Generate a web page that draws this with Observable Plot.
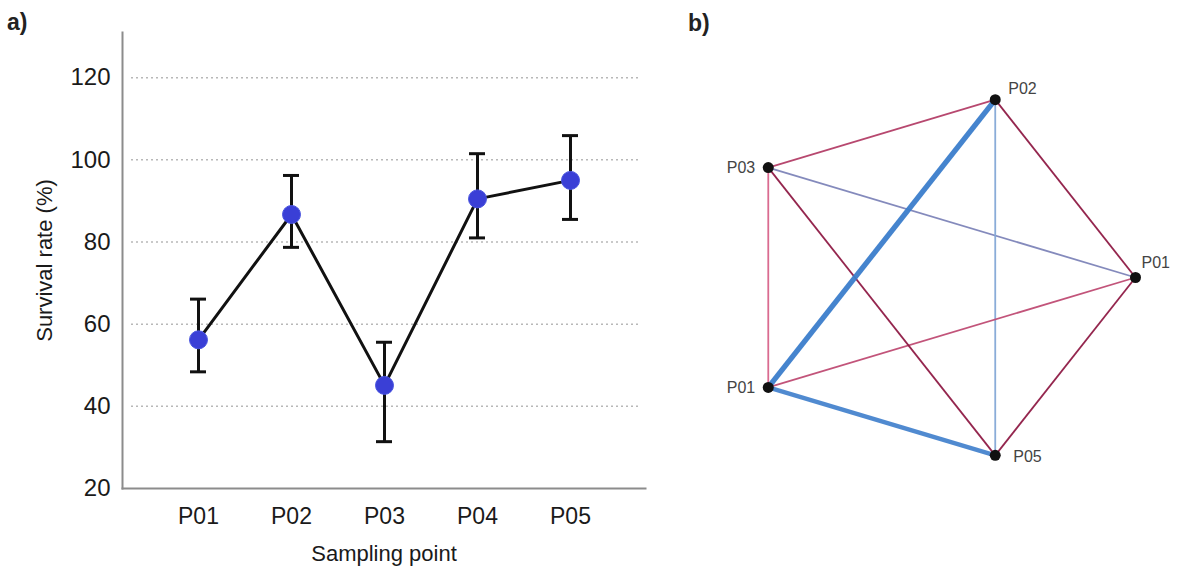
<!DOCTYPE html>
<html><head><meta charset="utf-8">
<script src="https://cdn.jsdelivr.net/npm/d3@7"></script>
<script src="https://cdn.jsdelivr.net/npm/@observablehq/plot@0.6"></script>
<style>
body{margin:0;background:#fff;font-family:"Liberation Sans",Arial,sans-serif;}
#wrap{position:relative;width:1184px;height:572px;overflow:hidden;background:#fff}
#pa{position:absolute;left:0;top:0}
#pb{position:absolute;left:680px;top:0}
.tag{position:absolute;font-size:23px;font-weight:bold;color:#222;line-height:1}
</style></head><body>
<div id="wrap">
  <div id="pa"></div><div id="pb"></div>
  <div class="tag" style="left:7px;top:11px">a)</div>
  <div class="tag" style="left:688px;top:12px">b)</div>
</div>
<script>
// ---- panel a data ----
const sites = ["P01", "P02", "P03", "P04", "P05"];
const survival = [56.2, 86.7, 45.1, 90.5, 95.0];
const survivalLow = [48.4, 78.7, 31.4, 81.0, 85.5];
const survivalHigh = [66.1, 96.2, 55.6, 101.5, 105.9];
const yTicks = [20, 40, 60, 80, 100, 120];

// ---- panel b data (circle layout order, clockwise from the right) ----
const nodeLabels = ["P01", "P05", "P01", "P03", "P02"];
const edgeFrom   = [3, 3, 3, 3, 4, 4, 4, 0, 0, 2];
const edgeTo     = [4, 0, 2, 1, 2, 1, 0, 2, 1, 1];
const edgeWeight = [-0.45, 0.2, -0.3, -0.6, 0.95, 0.35, -0.6, -0.4, -0.6, 0.85];

const font = "'Liberation Sans', Arial, sans-serif";

// ---- panel a ----
const rows = sites.map((s, i) => ({site: s, v: survival[i], lo: survivalLow[i], hi: survivalHigh[i]}));
const axisColor = "#8c8c8c";
const pa = Plot.plot({
  width: 660, height: 572,
  marginLeft: 122, marginRight: 15, marginTop: 32, marginBottom: 84,
  style: {fontFamily: font, color: "#1a1a1a", background: "transparent"},
  x: {type: "band", domain: sites, paddingInner: 0.83, paddingOuter: 0.718},
  y: {domain: [20, 131]},
  marks: [
    Plot.gridY(yTicks.slice(1), {stroke: "#b8b8b8", strokeOpacity: 1, strokeDasharray: "2,3", strokeWidth: 1.5, insetLeft: 9, insetRight: 5}),
    Plot.frame({anchor: "left", stroke: axisColor, strokeWidth: 2}),
    Plot.frame({anchor: "bottom", stroke: axisColor, strokeWidth: 2}),
    Plot.axisY(yTicks, {tickSize: 0, tickPadding: 12, fontSize: 24, label: null}),
    Plot.axisY({ticks: [], tickSize: 0, fontSize: 22, label: "Survival rate (%)", labelAnchor: "center", labelOffset: 86, labelArrow: "none"}),
    Plot.axisX({tickSize: 0, tickPadding: 19, fontSize: 23, label: null}),
    Plot.axisX({ticks: [], tickSize: 0, fontSize: 22, label: "Sampling point", labelAnchor: "center", labelOffset: 72, labelArrow: "none"}),
    Plot.ruleX(rows, {x: "site", y1: "lo", y2: "hi", stroke: "#111", strokeWidth: 3}),
    Plot.tickY(rows, {x: "site", y: "lo", stroke: "#111", strokeWidth: 3}),
    Plot.tickY(rows, {x: "site", y: "hi", stroke: "#111", strokeWidth: 3}),
    Plot.line(rows, {x: "site", y: "v", stroke: "#111", strokeWidth: 3}),
    Plot.dot(rows, {x: "site", y: "v", r: 9, fill: "#3a3fd6", stroke: "#4a55e0", strokeWidth: 1})
  ]
});
document.getElementById("pa").appendChild(pa);

// ---- panel b ----
const N = nodeLabels.length;
const nodes = nodeLabels.map((label, i) => {
  const a = 2 * Math.PI * i / N;
  return {label, i, x: Math.cos(a), y: Math.sin(a)};
});
const edges = edgeFrom.map((f, k) => ({
  w: edgeWeight[k],
  x1: nodes[f].x, y1: nodes[f].y,
  x2: nodes[edgeTo[k]].x, y2: nodes[edgeTo[k]].y
})).sort((a, b) => Math.abs(a.w) - Math.abs(b.w));

const left = nodes.filter(d => d.x < -0.1);
const rightTop = nodes.filter(d => d.x > -0.1 && d.x < 0.9 && d.y < 0);
const rightMid = nodes.filter(d => d.x >= 0.9);
const rightBottom = nodes.filter(d => d.x > -0.1 && d.y > 0.1);

const pb = Plot.plot({
  width: 504, height: 572, margin: 0,
  style: {fontFamily: font, background: "transparent"},
  x: {domain: [-1, 1], range: [49, 455], axis: null},
  y: {domain: [-1, 1], range: [90, 464], axis: null},
  color: {type: "linear", domain: [-0.6, -0.3, 0.2, 0.35, 0.95],
          range: ["#8e1a44", "#d8638a", "#7d84b8", "#84a8d6", "#3b7dcb"], interpolate: "rgb"},
  marks: [
    Plot.link(edges, {x1: "x1", y1: "y1", x2: "x2", y2: "y2", stroke: "w",
      strokeWidth: d => 1.8 + 10 * Math.max(0, Math.abs(d.w) - 0.6), strokeOpacity: 0.95}),
    Plot.dot(nodes, {x: "x", y: "y", r: 5.5, fill: "#111"}),
    Plot.text(left, {x: "x", y: "y", text: "label", textAnchor: "end", dx: -13, fontSize: 16, fill: "#444"}),
    Plot.text(rightTop, {x: "x", y: "y", text: "label", textAnchor: "start", dx: 13, dy: -11, fontSize: 16, fill: "#444"}),
    Plot.text(rightMid, {x: "x", y: "y", text: "label", textAnchor: "start", dx: 6, dy: -15, fontSize: 16, fill: "#444"}),
    Plot.text(rightBottom, {x: "x", y: "y", text: "label", textAnchor: "start", dx: 18, dy: 2, fontSize: 16, fill: "#444"})
  ]
});
document.getElementById("pb").appendChild(pb);
</script>
</body></html>
